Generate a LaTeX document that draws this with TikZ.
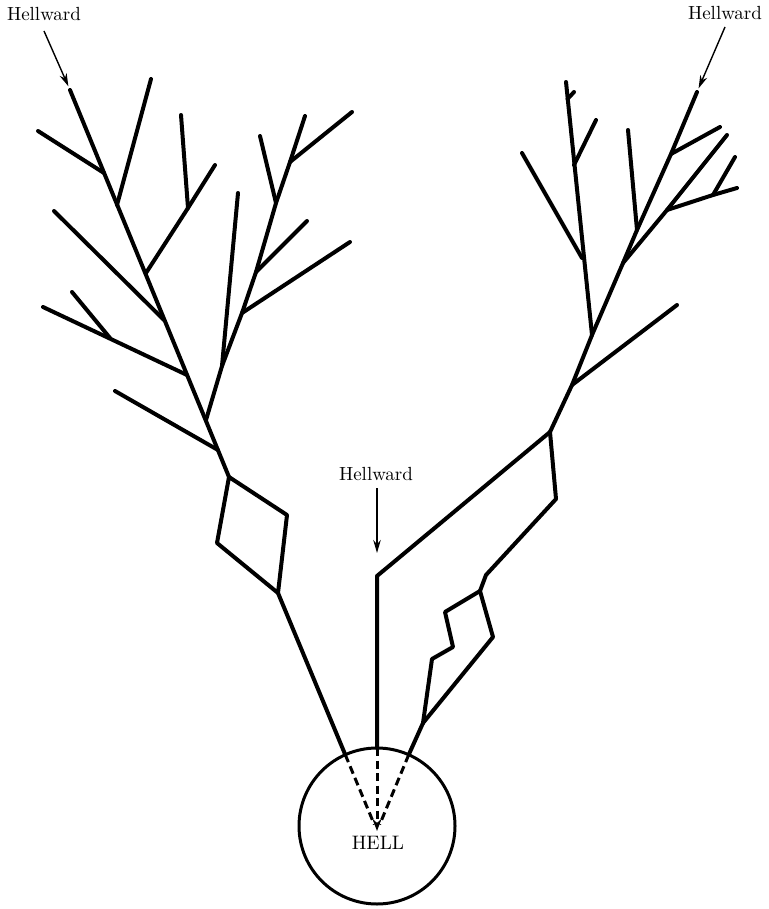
\documentclass[tikz,border=0pt]{standalone}
\usetikzlibrary{arrows.meta}
% text face: the 10pt design of Latin Modern, scaled up
\font\tagfnt="[lmroman10-regular]" at 19pt
\font\pitfnt="[lmroman10-regular]" at 19.5pt
\begin{document}
\begin{tikzpicture}[x=1pt,y=-1pt,
  branch/.style={line width=4pt, line cap=round, line join=round},
  pointer/.style={line width=1.4pt, -{Stealth[length=13pt,width=7.5pt]}},
  tag/.style={font=\tagfnt, inner sep=0pt, anchor=base},
  sink/.style={circle, draw, line width=3pt, minimum size=156pt, inner sep=0pt, outer sep=0pt},
  fall/.style={line width=3pt, dash pattern=on 8pt off 4.5pt},
]
\useasboundingbox (0,0) rectangle (768,909);

% ---------- the pit ----------
\node[sink] (hell) at (377,826) {};
\node[font=\pitfnt, inner sep=0pt, anchor=base] (hellname) at (378,849) {HELL};
\coordinate (core) at (377,831);

% ---------- labels ----------
\node[tag] (lh) at (44,21) {Hellward};
\node[tag] (rh) at (725,20) {Hellward};
\node[tag] (mh) at (376,480) {Hellward};
\coordinate (lh-s) at (44,31);
\coordinate (rh-s) at (725,27);
\coordinate (mh-s) at (377,488);
\coordinate (mh-t) at (377,553);

% ---------- left tree ----------
\coordinate (L0) at (70,90);
\coordinate (L1) at (104,173);
\coordinate (L2) at (117,205);
\coordinate (L3) at (146,273);
\coordinate (L4) at (164,320);
\coordinate (L5) at (187,375);
\coordinate (L6) at (206,420);
\coordinate (L7) at (218,450);
\coordinate (L8) at (229,477);
\coordinate (Lb1) at (38,131);
\coordinate (Lb2) at (151,79);
\coordinate (Lc1) at (188,208);
\coordinate (Lc2) at (215,165);
\coordinate (Lc3) at (181,115);
\coordinate (Ld1) at (54,211);
\coordinate (Le1) at (43,307);
\coordinate (Le2) at (110,338);
\coordinate (Le3) at (72,292);
\coordinate (Lf1) at (115,391);
% left sub-tree
\coordinate (S1) at (222,366);
\coordinate (S2) at (242,313);
\coordinate (S3) at (256,272);
\coordinate (S4) at (276,203);
\coordinate (S5) at (290,162);
\coordinate (S6) at (305,116);
\coordinate (Sa) at (238,193);
\coordinate (Sb) at (350,242);
\coordinate (Sc) at (307,221);
\coordinate (Sd) at (260,136);
\coordinate (Se) at (352,112);
% diamond
\coordinate (D1) at (287,515);
\coordinate (D2) at (278,593);
\coordinate (D3) at (217,543);

\draw[branch] (L0) -- (L8);
\draw[branch] (Lb1) -- (L1);
\draw[branch] (L2) -- (Lb2);
\draw[branch] (L3) -- (Lc1) -- (Lc2);
\draw[branch] (Lc1) -- (Lc3);
\draw[branch] (Ld1) -- (L4);
\draw[branch] (Le1) -- (L5);
\draw[branch] (Le3) -- (Le2);
\draw[branch] (Lf1) -- (L7);
\draw[branch] (L6) -- (S1) -- (S2) -- (S3) -- (S4) -- (S5) -- (S6);
\draw[branch] (S1) -- (Sa);
\draw[branch] (S2) -- (Sb);
\draw[branch] (S3) -- (Sc);
\draw[branch] (S4) -- (Sd);
\draw[branch] (S5) -- (Se);
\draw[branch] (L8) -- (D1) -- (D2) -- (D3) -- cycle;
\draw[branch] (D2) -- (hell.114);

% ---------- right tree ----------
\coordinate (Ra) at (697,92);
\coordinate (Rb) at (671,154);
\coordinate (Rc) at (637,230);
\coordinate (Rd) at (623,263);
\coordinate (Re) at (592,335);
\coordinate (Rb1) at (720,127);
\coordinate (Rc1) at (628,130);
\coordinate (Rd1) at (667,210);
\coordinate (Rd2) at (727,135);
\coordinate (Rd3) at (713,195);
\coordinate (Rd4) at (737,188);
\coordinate (Rd5) at (735,157);
% left stem of the right tree
\coordinate (V0) at (566,82);
\coordinate (V1) at (567.5,99);
\coordinate (V1a) at (574,92);
\coordinate (V2) at (574,165);
\coordinate (V2a) at (596,120);
\coordinate (V3) at (582,258);
\coordinate (V3a) at (522,153);
% lower part
\coordinate (Rf) at (572,385);
\coordinate (Rf1) at (677,305);
\coordinate (Rg) at (550,432);
\coordinate (M0) at (377,576);
\coordinate (Rh) at (556,499);
\coordinate (Ri) at (486,575);
\coordinate (Rj) at (480,591);
\coordinate (Z1) at (445,612);
\coordinate (Z2) at (453,647);
\coordinate (Z3) at (432,659);
\coordinate (Z4) at (423,723);
\coordinate (Z5) at (493,637);

\draw[branch] (Ra) -- (Rb) -- (Rc) -- (Rd) -- (Re);
\draw[branch] (Rb) -- (Rb1);
\draw[branch] (Rc) -- (Rc1);
\draw[branch] (Rd) -- (Rd1) -- (Rd2);
\draw[branch] (Rd1) -- (Rd3) -- (Rd4);
\draw[branch] (Rd3) -- (Rd5);
\draw[branch] (V0) -- (Re);
\draw[branch] (V1) -- (V1a);
\draw[branch] (V2) -- (V2a);
\draw[branch] (V3) -- (V3a);
\draw[branch] (Re) -- (Rf) -- (Rg);
\draw[branch] (Rf) -- (Rf1);
\draw[branch] (Rg) -- (M0) -- (hell.90);
\draw[branch] (Rg) -- (Rh) -- (Ri) -- (Rj);
\draw[branch] (Rj) -- (Z1) -- (Z2) -- (Z3) -- (Z4);
\draw[branch] (Rj) -- (Z5) -- (Z4);
\draw[branch] (Z4) -- (hell.66);

% ---------- arrows ----------
\draw[pointer, shorten >=4pt] (lh-s) -- (L0);
\draw[pointer, shorten >=4pt] (rh-s) -- (Ra);
\draw[pointer] (mh-s) -- (mh-t);

% ---------- paths inside the pit ----------
\draw[fall, shorten >=7pt] (hell.114) -- (core);
\draw[fall, shorten >=7pt] (hell.66) -- (core);
\draw[fall, -{Stealth[length=12pt,width=9pt]}] (hell.90) -- (core);
\end{tikzpicture}
\end{document}
